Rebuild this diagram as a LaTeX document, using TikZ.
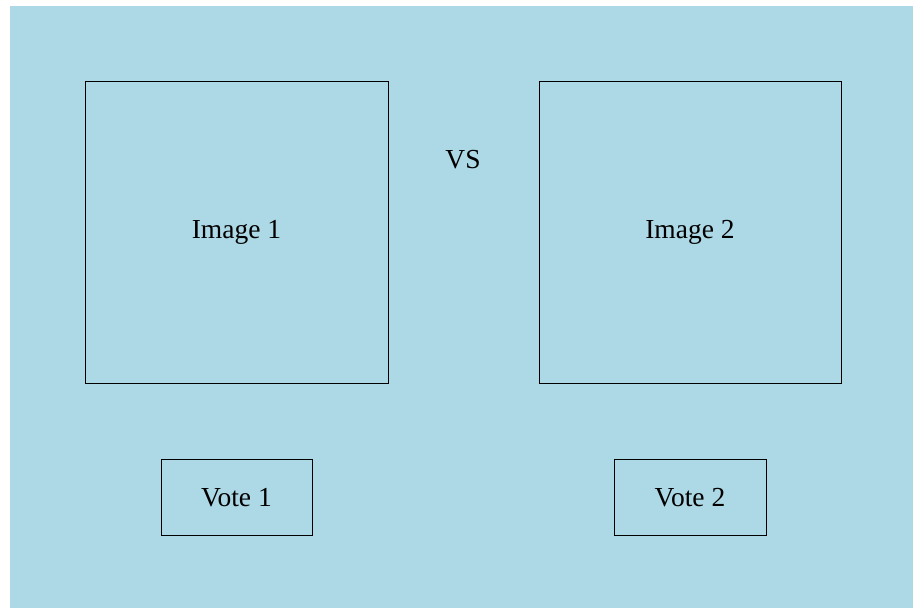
\documentclass[tikz,border=0pt]{standalone}
\usepackage{fontspec}
\setmainfont{Liberation Serif}
\definecolor{panelblue}{HTML}{ADD8E6}
\tikzset{
  label text/.style={font=\fontsize{27.5}{32}\selectfont},
  frame/.style={draw=black, line width=0.9pt}
}
\begin{document}
\begin{tikzpicture}[x=1pt, y=-1pt]
  % page extent and blue panel
  \useasboundingbox (0,0) rectangle (913,608);
  \fill[panelblue] (10,6) rectangle (913,608);
  % image placeholders
  \draw[frame] (85,81) rectangle (388,383);
  \draw[frame] (539,81) rectangle (841,383);
  \node[label text] (img1) at (236.5,232) {Image 1};
  \node[label text] (img2) at (690,232) {Image 2};
  \node[label text] (vs) at (463,160) {VS};
  % vote buttons
  \draw[frame] (161,459) rectangle (312,535);
  \draw[frame] (614,459) rectangle (766,535);
  \node[label text] (vote1) at (236.5,498) {Vote 1};
  \node[label text] (vote2) at (690,498) {Vote 2};
\end{tikzpicture}
\end{document}
